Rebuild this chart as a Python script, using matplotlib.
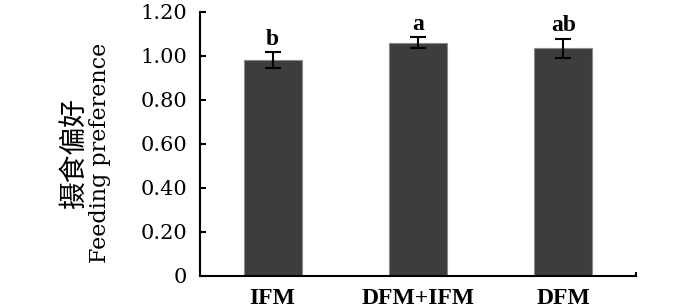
import numpy as np
import matplotlib.pyplot as plt

# data
groups = ['IFM', 'DFM+IFM', 'DFM']
means = [0.98, 1.06, 1.035]
errs = [0.035, 0.024, 0.043]
letters = ['b', 'a', 'ab']
yticks = [0, 0.2, 0.4, 0.6, 0.8, 1.0, 1.2]

serif = ['DejaVu Serif', 'Noto Sans CJK SC']
cond = ['Liberation Serif', 'Noto Sans CJK SC']

fig = plt.figure(figsize=(7, 3.08), dpi=100)
ax = fig.add_axes([0.2857, 0.1039, 0.6229, 0.858])

x = np.arange(len(groups))
ax.bar(x, means, width=0.4, color='#3d3d3d', edgecolor='#8a8a8a', linewidth=0.8, zorder=2)
ax.errorbar(x, means, yerr=errs, fmt='none', ecolor='black', elinewidth=1.5,
            capsize=5.5, capthick=1.5, zorder=3)

# significance letters
for xi, m, e, s in zip(x, means, errs, letters):
    ax.text(xi, m + e + 0.012, s, ha='center', va='bottom', fontsize=17,
            family=cond, fontweight='bold')

ax.set_xlim(-0.5, 2.5)
ax.set_ylim(0, 1.2)
ax.set_yticks(yticks)
ax.set_yticklabels(['0' if v == 0 else f'{v:.2f}' for v in yticks], family=serif, fontsize=15)
ax.set_xticks(x)
ax.set_xticklabels(groups, family=cond, fontsize=17, fontweight='bold')
ax.tick_params(axis='x', length=0, pad=9)
ax.tick_params(axis='y', direction='in', length=4, width=1.5, pad=9)
ax.set_xticks([2.5], minor=True)
ax.tick_params(axis='x', which='minor', direction='in', length=3, width=1.5)

for side in ['top', 'right']:
    ax.spines[side].set_visible(False)
for side in ['left', 'bottom']:
    ax.spines[side].set_linewidth(1.5)

# two-line y label
fig.text(0.107, 0.503, '摄食偏好', rotation=90, ha='center', va='center',
         fontsize=20, family=serif)
fig.text(0.143, 0.503, 'Feeding preference', rotation=90, ha='center', va='center',
         fontsize=16, family=serif)

fig.savefig('out.png', dpi=100)
